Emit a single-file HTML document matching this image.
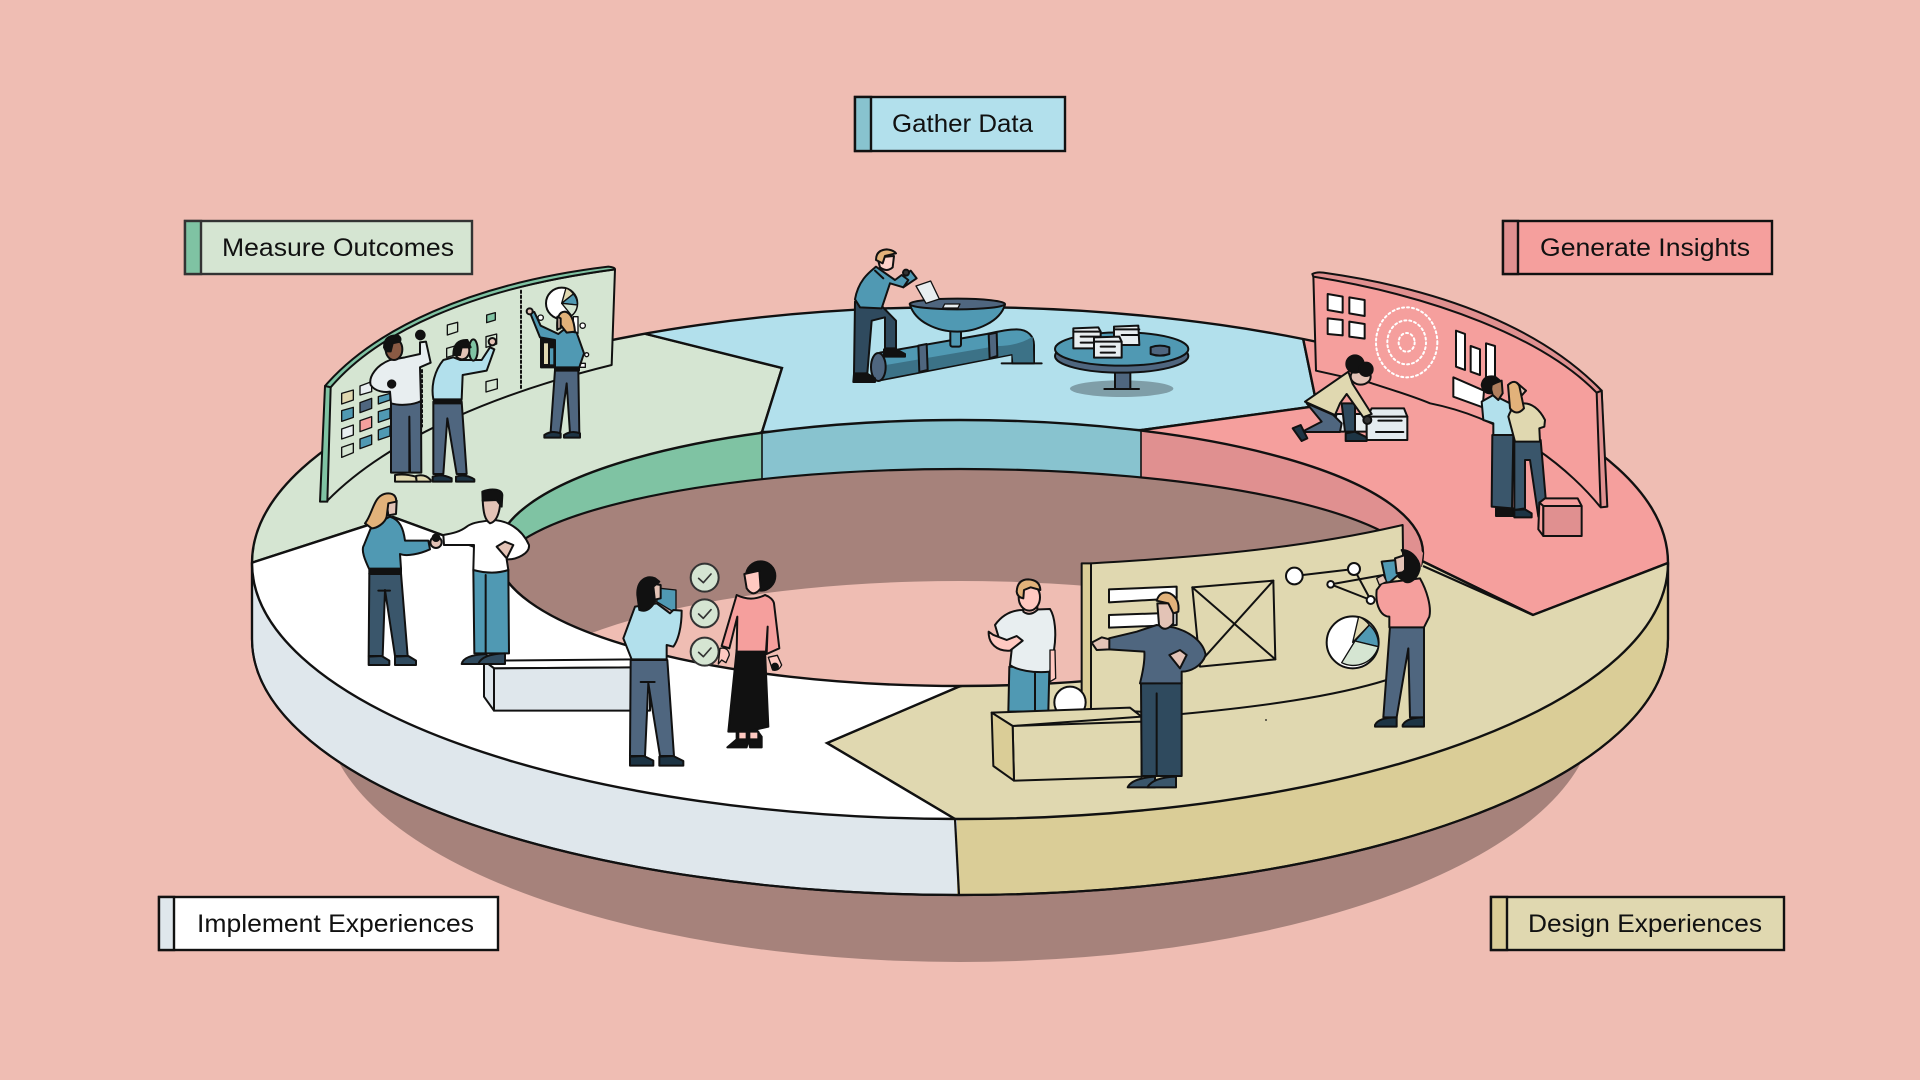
<!DOCTYPE html>
<html><head><meta charset="utf-8"><title>Experience cycle</title>
<style>
html,body{margin:0;padding:0;background:#efbdb3;width:1920px;height:1080px;overflow:hidden}
svg{display:block}
text{font-family:"Liberation Sans",sans-serif;font-size:25px;fill:#111}
.z *{stroke:#111;stroke-width:6;stroke-linejoin:round;stroke-linecap:round}
.z .n{stroke:none}
.z .t{stroke-width:4}
</style></head><body>
<svg width="1920" height="1080" viewBox="0 0 1920 1080" xmlns="http://www.w3.org/2000/svg">
<defs>
<clipPath id="outer"><ellipse cx="960" cy="563" rx="708" ry="256"/></clipPath>
<clipPath id="hole"><ellipse cx="960" cy="553" rx="463" ry="133"/></clipPath>
<clipPath id="leftSide"><rect x="200" y="500" width="757" height="420"/></clipPath>
<clipPath id="rightSide"><rect x="957" y="500" width="760" height="420"/></clipPath>
</defs>
<rect width="1920" height="1080" fill="#efbdb3"/>
<ellipse cx="960" cy="710" rx="635" ry="252" fill="#a6827b"/>

<!-- side wall -->
<g stroke="#111" stroke-width="2.2">
<path clip-path="url(#leftSide)" d="M252,563 V639 A708,256 0 0 0 1668,639 V563 Z" fill="#dfe7ec"/>
<path clip-path="url(#rightSide)" d="M252,563 V639 A708,256 0 0 0 1668,639 V563 Z" fill="#dacd97"/>
<path d="M955,819 L959,895" fill="none"/>
<path d="M252,563 V639 A708,256 0 0 0 1668,639 V563" fill="none"/>
</g>

<!-- top surface -->
<g clip-path="url(#outer)" stroke="#111" stroke-width="2.4" stroke-linejoin="miter">
<polygon fill="#d5e5d2" points="100,563 251,563 393,517 505,558 762,432 782,368 642,333 642,200 100,200"/>
<polygon fill="#b2e0ec" points="642,333 782,368 762,432 1142,430 1317,406 1303,338 1303,200 642,200"/>
<polygon fill="#f59f9d" points="1142,430 1317,406 1303,338 1303,200 1800,200 1800,563 1668,563 1533,615 1420,560"/>
<polygon fill="#e0d8b0" points="1668,563 1533,615 1420,560 958,687 827,743 955,819 955,900 1800,900 1800,563"/>
<polygon fill="#ffffff" points="251,563 393,517 505,558 958,687 827,743 955,819 955,900 100,900 100,563"/>
</g>
<ellipse cx="960" cy="563" rx="708" ry="256" fill="none" stroke="#111" stroke-width="2.4"/>

<!-- hole -->
<g clip-path="url(#hole)">
<rect x="490" y="410" width="272" height="290" fill="#7fc3a3"/>
<rect x="762" y="410" width="379" height="290" fill="#88c3cf"/>
<rect x="1141" y="410" width="290" height="290" fill="#e09090"/>
<path d="M762,420 V480 M1141,420 V480" stroke="#111" stroke-width="1.6"/>
<ellipse cx="960" cy="575" rx="463" ry="106" fill="#a6827b" stroke="#111" stroke-width="2.2"/>
<ellipse cx="960" cy="713" rx="463" ry="132" fill="#efbdb3"/>
</g>
<ellipse cx="960" cy="553" rx="463" ry="133" fill="none" stroke="#111" stroke-width="2.4"/>
<polygon points="1403,525 1423,553 1421,568 1403,566" fill="#e09090"/>
<polygon points="1403,566 1423,567 1423,595 1403,595" fill="#e0d8b0"/>
<path d="M1423,566 L1533,615" stroke="#111" stroke-width="2.2" fill="none"/>

<!-- Measure board group -->
<g class="z" transform="translate(310,260) scale(.33333)">
<path d="M45,380 C200,200 500,85 915,28 L905,315 C600,390 250,520 52,722 Z" fill="#d5e5d2"/>
<path d="M45,378 C190,210 480,70 895,20 Q915,22 915,28 C480,85 200,220 62,382 Z" fill="#7fc3a3"/>
<path d="M45,378 L62,382 L52,725 L30,725 Z" fill="#7fc3a3"/>
<polygon class="t" fill="#e0d8b0" points="95,400 130,390 130,420 95,432"/>
<polygon class="t" fill="#e8eef0" points="150,378 185,365 185,395 150,405"/>
<polygon class="t" fill="#5099b3" points="205,410 240,400 240,420 205,432"/>
<polygon class="t" fill="#5099b3" points="95,452 130,442 130,472 95,484"/>
<polygon class="t" fill="#4f667f" points="150,428 185,415 185,445 150,458"/>
<polygon class="t" fill="#5099b3" points="205,455 240,445 240,475 205,487"/>
<polygon class="t" fill="#e8eef0" points="95,507 130,495 130,525 95,537"/>
<polygon class="t" fill="#f59f9d" points="150,482 185,470 185,502 150,515"/>
<polygon class="t" fill="#5099b3" points="205,510 240,498 240,528 205,540"/>
<polygon class="t" fill="#d5e5d2" points="95,562 130,550 130,578 95,592"/>
<polygon class="t" fill="#5099b3" points="150,537 185,525 185,553 150,566"/>
<polygon class="t" fill="#d5e5d2" points="412,195 443,187 443,215 412,225"/>
<polygon class="t" fill="#7fc3a3" points="530,165 556,158 556,180 530,188"/>
<polygon class="t" fill="#d5e5d2" points="410,265 435,258 435,285 410,292"/>
<polygon class="t" fill="#d5e5d2" points="528,230 560,222 560,252 528,262"/>
<polygon class="t" fill="#d5e5d2" points="528,365 562,357 562,386 528,396"/>
<path d="M633,92 V385" stroke-dasharray="7 8" fill="none" stroke-linecap="butt"/>
<path d="M336,330 V500" stroke-dasharray="7 8" fill="none" stroke-linecap="butt"/>
<!-- pie -->
<circle cx="755" cy="130" r="47" fill="#fff"/>
<path class="t" d="M755,130 L768,84 A47,47 0 0 1 790,102 Z" fill="#e0d8b0"/>
<path class="t" d="M755,130 L790,102 A47,47 0 0 1 802,135 Z" fill="#5099b3"/>
<path class="t" d="M755,130 L802,135 A47,47 0 0 1 785,167 Z" fill="#d5e5d2"/>
<rect x="693" y="235" width="45" height="87" fill="#111"/>
<rect x="702" y="250" width="12" height="62" class="n" fill="#e0d8b0"/>
<rect x="720" y="265" width="10" height="48" class="n" fill="#5099b3"/>
<rect x="808" y="310" width="18" height="12" fill="#fff" class="t"/>
<rect x="790" y="170" width="14" height="50" fill="#fff" class="t"/>
<circle cx="692" cy="173" r="8" fill="#fff" class="t"/><circle cx="818" cy="197" r="8" fill="#fff" class="t"/>
<circle cx="830" cy="284" r="6" fill="#fff" class="t"/>
<!-- man 1 -->
<path d="M243,430 L333,425 L334,638 L300,638 L298,470 L298,638 L243,638 Z" fill="#4f667f"/>
<path d="M255,645 Q285,640 318,650 L320,665 L255,665 Z" fill="#e0d8b0"/>
<path d="M318,648 Q345,640 362,660 L362,665 L320,665 Z" fill="#e0d8b0"/>
<path d="M240,300 C200,315 175,350 182,375 C195,395 225,398 240,395 L243,430 C270,438 310,435 333,423 L330,322 L362,308 L348,245 L330,247 L330,282 L285,292 Z" fill="#e8eef0"/>
<ellipse cx="252" cy="268" rx="25" ry="32" fill="#8a5a44"/>
<path d="M222,262 Q222,225 262,226 Q275,232 270,245 L248,250 L242,274 L228,274 Z" fill="#111"/>
<circle cx="331" cy="225" r="13" fill="#111"/><circle cx="245" cy="372" r="11" fill="#111"/>
<!-- man 2 -->
<path d="M370,425 L455,425 L470,642 L440,642 L412,475 L400,642 L370,642 Z" fill="#4f667f"/>
<rect x="372" y="418" width="82" height="12" fill="#111"/>
<path d="M368,650 Q395,640 425,655 L425,665 L368,665 Z" fill="#1d3444"/>
<path d="M438,650 Q465,640 493,658 L493,665 L438,665 Z" fill="#1d3444"/>
<path d="M400,300 C375,330 362,375 370,418 L455,418 L458,345 L530,332 L553,268 L540,262 L515,300 L450,300 L430,292 Z" fill="#b2e0ec"/>
<ellipse cx="490" cy="270" rx="13" ry="32" fill="#7fc3a3"/>
<ellipse cx="456" cy="272" rx="22" ry="26" fill="#e3c3b6"/>
<path d="M430,285 Q430,238 472,240 L482,262 L455,262 L450,285 Z" fill="#111"/>
<circle cx="547" cy="245" r="11" fill="#e3c3b6"/>
<!-- woman 3 -->
<path d="M735,330 L805,330 L808,520 L780,520 L770,370 L750,520 L722,515 Z" fill="#4f667f"/>
<rect x="735" y="322" width="72" height="10" fill="#111"/>
<path d="M703,525 Q725,510 752,520 L752,533 L703,533 Z" fill="#1d3444"/>
<path d="M762,525 Q785,510 810,520 L810,533 L762,533 Z" fill="#1d3444"/>
<path d="M660,158 L673,156 L692,197 L745,222 L760,210 L800,218 L822,280 L808,322 L735,322 L735,240 L690,232 Z" fill="#5099b3"/>
<path d="M742,210 Q738,155 765,155 Q790,160 795,215 L770,218 L752,195 Z" fill="#e2b27a"/>
<path d="M742,170 L752,175 L752,205 L742,208 Z" fill="#e3c3b6"/>
<circle cx="659" cy="154" r="9" fill="#e3c3b6"/>
</g>

<!-- Gather group -->
<g class="z" transform="translate(840,230) scale(.33333)">
<ellipse class="n" cx="350" cy="350" rx="48" ry="12" fill="#6d9eb0"/>
<path d="M120,368 L440,312 Q500,298 530,298 C565,298 582,320 582,345 L582,400 L517,400 L517,373 L125,450 Z" fill="#5099b3"/>
<path class="n" d="M125,448 L120,408 L470,348 C520,348 555,335 578,320 L580,398 L520,398 L517,372 Z" fill="#3c7287"/>
<path d="M235,347 L260,342 L263,420 L238,426 Z" fill="#4f667f"/>
<path d="M446,313 L470,308 L472,378 L449,385 Z" fill="#4f667f"/>
<ellipse cx="115" cy="411" rx="22" ry="42" fill="#4f667f"/>
<path d="M485,400 H605" fill="none"/>
<rect x="331" y="300" width="32" height="50" rx="6" fill="#5099b3"/>
<path d="M210,224 C225,275 290,305 352,305 C410,305 480,275 495,224 Z" fill="#5099b3"/>
<ellipse cx="352" cy="222" rx="143" ry="16" fill="#4f667f"/>
<polygon points="228,168 272,153 298,207 258,220" fill="#e8eef0" class="t"/>
<polygon points="314,222 360,222 354,234 308,234" fill="#e8eef0" class="t"/>
<path d="M45,215 L42,430 L82,430 L95,272 L135,262 L135,355 L168,355 L168,272 L125,228 Z" fill="#2f4a5e"/>
<path d="M42,432 L80,430 L105,445 L105,456 L40,456 Z" fill="#111"/>
<path d="M132,358 L165,356 L195,372 L195,380 L132,380 Z" fill="#111"/>
<polygon points="172,150 212,122 230,145 190,172" fill="#5099b3"/>
<path d="M45,208 C55,150 90,125 108,110 L165,150 L185,135 L205,150 L190,172 L150,160 L125,235 L60,232 Z" fill="#5099b3"/>
<path d="M112,82 L162,78 L158,112 Q140,128 120,112 Z" fill="#fdd3ca"/>
<path d="M108,90 Q108,60 140,58 Q160,60 168,70 L135,78 L128,100 Z" fill="#e2b27a"/>
<path d="M105,122 L130,145" fill="none"/>
<circle cx="198" cy="128" r="9" fill="#333"/>
<!-- table -->
<ellipse class="n" cx="845" cy="476" rx="155" ry="25" fill="#7f9ea8"/>
<rect x="825" y="425" width="46" height="52" fill="#4f667f"/>
<path d="M793,477 H897" fill="none"/>
<ellipse cx="845" cy="378" rx="200" ry="50" fill="#4f667f"/>
<ellipse cx="845" cy="357" rx="200" ry="50" fill="#5099b3"/>
<path d="M700,295 L775,292 L782,305 L782,355 L700,355 Z" fill="#e8eef0"/>
<path d="M700,305 L782,305 M722,320 H780 M722,338 H760" fill="none"/>
<path d="M822,290 L895,287 L898,345 L822,345 Z" fill="#e8eef0"/>
<path d="M822,298 H898 M845,315 H896" fill="none"/>
<path d="M762,322 L838,320 L845,335 L845,383 L762,383 Z" fill="#e8eef0"/>
<path d="M762,335 H845 M782,350 H825 M782,368 H825" fill="none"/>
<path d="M932,352 Q960,342 988,352 L988,372 Q960,382 932,372 Z" fill="#4f667f"/>
</g>

<!-- Red board group -->
<g class="z" transform="translate(1280,260) scale(.33333)">
<path d="M100,45 C450,100 800,220 965,392 L978,740 L960,740 C880,640 700,480 450,430 C390,405 320,385 270,368 L108,332 Z" fill="#f59f9d"/>
<path d="M97,42 Q110,35 130,38 C500,90 790,210 965,392 L950,398 C790,235 470,110 100,50 Z" fill="#e09090"/>
<path d="M950,398 L965,392 L982,740 L962,742 Z" fill="#e09090"/>
<polygon points="143,102 188,110 188,158 143,150" fill="#fff"/>
<polygon points="208,112 254,120 254,168 208,160" fill="#fff"/>
<polygon points="143,175 188,180 188,226 143,222" fill="#fff"/>
<polygon points="208,185 254,192 254,236 208,230" fill="#fff"/>
<g fill="none">
<ellipse cx="380" cy="247" rx="92" ry="105" style="stroke:#fff" stroke-dasharray="6 9"/>
<ellipse cx="380" cy="247" rx="58" ry="66" style="stroke:#fff" stroke-dasharray="6 9"/>
<ellipse cx="380" cy="247" rx="24" ry="28" style="stroke:#fff" stroke-dasharray="6 9"/>
</g>
<polygon points="528,212 555,222 555,330 528,320" fill="#fff"/>
<polygon points="572,258 600,268 600,345 572,335" fill="#fff"/>
<polygon points="618,250 645,258 645,360 618,350" fill="#fff"/>
<polygon points="520,352 612,392 608,442 520,410" fill="#fff"/>
<!-- kneeling -->
<path d="M170,462 L260,462 L260,515 L155,515 Z" fill="#e8eef0"/>
<path d="M275,445 L372,445 L382,470 L260,472 Z" fill="#e4ebef"/>
<rect x="260" y="470" width="122" height="70" fill="#e4ebef"/>
<path d="M295,482 H365 M288,516 H370" fill="none"/>
<path d="M80,430 L160,465 L185,490 L180,516 L65,516 L125,485 Z" fill="#4f667f"/>
<path d="M185,430 L225,430 L225,515 L195,515 Z" fill="#2f4a5e"/>
<path d="M38,505 L62,495 L82,535 L65,543 Z" fill="#1d3444"/>
<path d="M197,520 L225,515 L260,532 L260,543 L197,543 Z" fill="#1d3444"/>
<path d="M205,335 L75,425 L165,465 L180,430 L200,402 L250,472 L275,462 L218,372 Z" fill="#e0d8b0"/>
<ellipse cx="242" cy="350" rx="30" ry="24" fill="#e3c3b6"/>
<circle cx="225" cy="312" r="26" fill="#111"/><circle cx="258" cy="328" r="20" fill="#111"/>
<circle cx="262" cy="480" r="12" fill="#333"/>
<!-- couple -->
<path d="M648,745 L700,745 L700,768 L648,768 Z" fill="#111"/>
<path d="M637,525 L700,525 L696,745 L635,740 Z" fill="#3a566b"/>
<path d="M605,425 L640,405 L690,430 L700,525 L640,525 L640,490 L610,480 Z" fill="#b2e0ec"/>
<path d="M630,375 L665,362 L668,400 L655,420 L638,405 Z" fill="#b07f5e"/>
<path d="M605,375 Q610,345 645,350 L660,362 L635,375 L632,400 Q610,400 605,375 Z" fill="#111"/>
<path d="M703,545 L782,540 L797,715 L775,770 L750,600 L735,600 L735,745 L703,750 Z" fill="#3a566b"/>
<path d="M703,750 L735,748 L755,760 L755,772 L703,772 Z" fill="#1d3444"/>
<path d="M685,470 C700,420 760,410 795,480 L793,500 L778,505 L780,545 L705,545 Z" fill="#e0d8b0"/>
<path d="M710,368 L738,392 L722,410 Z" fill="#e3c3b6"/>
<path d="M684,375 Q705,355 718,378 L732,445 Q710,470 690,445 Z" fill="#e2b27a"/>
<!-- box -->
<path d="M778,728 L795,715 L893,715 L905,738 L790,738 Z" fill="#f59f9d"/>
<path d="M778,728 L790,738 L790,828 L775,808 Z" fill="#f59f9d"/>
<rect x="790" y="738" width="115" height="90" fill="#e09090"/>
</g>

<!-- Implement group -->
<g class="z" transform="translate(340,470) scale(.33333)">
<path d="M432,572 L900,568 L930,592 L462,595 Z" fill="#fff"/>
<path d="M462,595 L930,592 L930,722 L462,722 Z" fill="#dfe7ec"/>
<path d="M432,572 L462,595 L462,722 L432,680 Z" fill="#dfe7ec"/>
<!-- woman left -->
<path d="M88,310 L183,310 L203,558 L165,558 L135,360 L128,558 L86,558 Z" fill="#3a566b"/>
<path d="M115,362 H150" fill="none"/>
<path d="M86,560 L125,558 L148,572 L148,585 L86,585 Z" fill="#2f4a5e"/>
<path d="M165,560 L205,558 L228,572 L228,585 L165,585 Z" fill="#2f4a5e"/>
<rect x="88" y="296" width="95" height="16" fill="#111"/>
<path d="M95,168 L150,140 C180,150 190,175 195,212 L265,212 L270,238 C240,252 200,260 180,252 L183,296 L87,296 C75,270 62,240 72,225 Z" fill="#5099b3"/>
<path d="M140,100 L170,92 L168,132 L145,136 Z" fill="#e3c3b6"/>
<path d="M75,160 C100,130 100,70 145,70 C165,70 170,85 168,95 L145,100 L140,140 C135,160 110,175 95,175 Z" fill="#e2b27a"/>
<circle cx="288" cy="217" r="17" fill="#e3c3b6"/>
<circle cx="288" cy="203" r="10" fill="#111"/>
<!-- man right -->
<path d="M400,300 L505,300 L507,550 L403,550 Z" fill="#5099b3"/>
<path d="M437,315 V548" fill="none"/>
<path d="M365,582 Q370,555 440,552 L440,582 Z" fill="#2f4a5e"/>
<path d="M415,582 Q425,552 495,550 L495,582 Z" fill="#2f4a5e"/>
<path d="M310,195 C340,190 360,185 380,170 C400,155 430,155 455,150 C500,150 545,175 567,225 C570,250 530,270 500,268 L505,300 C470,312 430,308 400,300 L402,225 L312,225 Z" fill="#fff"/>
<path d="M428,90 C430,130 435,150 450,160 C470,155 480,130 482,85 Z" fill="#e3c3b6"/>
<path d="M427,65 C450,55 485,55 487,75 L485,110 L470,90 L428,92 Z" fill="#111"/>
<path d="M470,230 L495,215 L520,225 L500,265 Z" fill="#e3c3b6"/>
<!-- woman with book -->
<polygon points="960,355 1008,360 1008,430 950,395" fill="#5099b3" class="t"/>
<path d="M872,570 L982,570 L1002,858 L960,858 L925,640 L915,858 L870,858 Z" fill="#4f667f"/>
<path d="M902,636 H944" fill="none"/>
<path d="M870,860 L912,858 L940,872 L940,887 L870,887 Z" fill="#1d3444"/>
<path d="M958,860 L1000,858 L1030,873 L1030,887 L958,887 Z" fill="#1d3444"/>
<path d="M885,410 L950,400 L990,430 L1000,420 L1025,422 C1025,470 1015,510 1000,530 L980,525 L980,568 L875,568 L850,505 Z" fill="#b2e0ec"/>
<path d="M935,340 L962,345 L962,385 L940,390 Z" fill="#e3c3b6"/>
<path d="M892,375 C890,330 920,315 945,325 L958,335 L940,350 L945,395 Q925,430 898,420 Z" fill="#111"/>
<!-- checks -->
<g class="t">
<circle cx="1094" cy="323" r="42" fill="#d5e5d2" style="stroke:#333"/>
<circle cx="1094" cy="430" r="42" fill="#d5e5d2" style="stroke:#333"/>
<circle cx="1094" cy="545" r="42" fill="#d5e5d2" style="stroke:#333"/>
<path d="M1076,325 L1090,338 L1113,312 M1076,432 L1090,445 L1113,419 M1076,547 L1090,560 L1113,534" fill="none" style="stroke-width:5;stroke:#333"/>
</g>
<!-- woman pink -->
<path d="M1190,780 L1190,808 L1162,832 L1220,832 L1225,808 L1230,832 L1265,832 L1265,800 L1250,780 Z" fill="#111"/>
<path d="M1195,785 H1220 V808 H1195 Z" fill="#ffc9c1"/>
<path d="M1228,785 H1255 V808 H1228 Z" fill="#ffc9c1"/>
<path d="M1190,540 L1275,540 L1285,770 L1220,785 L1165,785 Z" fill="#111"/>
<path d="M1190,375 C1220,390 1250,388 1275,375 C1290,380 1300,390 1302,400 L1318,535 L1280,552 L1283,470 L1278,545 L1190,545 L1192,440 L1168,535 L1145,528 Z" fill="#f59f9d"/>
<circle cx="1262" cy="318" r="44" fill="#111"/>
<path d="M1213,312 L1258,302 L1262,355 Q1240,385 1220,355 Z" fill="#ffc9c1"/>
<path d="M1140,535 Q1165,530 1168,555 L1158,578 L1145,570 L1135,582 Z" fill="#ffc9c1" class="t"/>
<path d="M1285,562 L1312,556 L1325,585 Q1315,605 1298,600 Z" fill="#ffc9c1" class="t"/>
<circle cx="1305" cy="590" r="9" fill="#111"/>
</g>

<!-- Design group -->
<g class="z" transform="translate(960,510) scale(.33333)">
<path d="M393,160 C750,140 1050,110 1328,45 L1330,200 L1280,510 C1120,560 900,590 665,612 L393,597 Z" fill="#e0d8b0"/>
<path d="M365,160 L393,160 L393,597 L365,600 Z" fill="#dacd97"/>
<polygon points="447,238 650,230 650,265 447,277" fill="#fff"/>
<polygon points="447,315 650,308 650,345 447,353" fill="#fff"/>
<polygon points="697,232 940,212 946,448 720,470" fill="#e0d8b0"/>
<path d="M697,232 L946,448 M940,212 L735,440" fill="none"/>
<path d="M1003,198 L1182,177 L1232,270 L1112,223 L1270,195" fill="none"/>
<circle cx="1003" cy="198" r="25" fill="#fff"/>
<circle cx="1182" cy="177" r="18" fill="#fff"/>
<circle cx="1112" cy="223" r="10" fill="#fff"/>
<circle cx="1232" cy="270" r="12" fill="#fff"/>
<circle cx="1178" cy="397" r="78" fill="#fff"/>
<path class="t" d="M1178,397 L1196,320 A78,78 0 0 1 1228,345 Z" fill="#e0d8b0"/>
<path class="t" d="M1185,393 L1228,345 A78,78 0 0 1 1255,410 Z" fill="#5099b3"/>
<path class="t" d="M1185,393 L1255,410 A78,78 0 0 1 1145,458 Z" fill="#d5e5d2"/>
<!-- left man -->
<path d="M148,470 L268,480 L265,605 L145,605 Z" fill="#5099b3"/>
<path d="M225,490 V605" fill="none"/>
<path d="M105,345 C130,310 160,300 190,300 L270,297 C285,320 290,370 282,420 L270,485 C220,490 170,480 150,465 L155,420 L120,395 Z" fill="#e8eef0"/>
<path d="M86,365 C85,400 110,425 150,422 L188,392 L170,378 L140,390 L100,375 Z" fill="#ffc9c1"/>
<path d="M190,280 L190,305 Q210,320 232,300 L232,280 Z" fill="#ffc9c1"/>
<ellipse cx="208" cy="262" rx="32" ry="40" fill="#ffc9c1"/>
<path d="M170,245 Q172,208 205,208 Q240,210 241,240 L212,232 L192,240 L190,265 Q172,262 170,245 Z" fill="#e2b27a"/>
<path d="M270,420 L285,420 L287,505 L270,515 Z" fill="#ffc9c1" class="t"/>
<circle cx="330" cy="577" r="47" fill="#fff"/>
<!-- box -->
<polygon points="95,608 510,593 545,620 158,648" fill="#e0d8b0"/>
<polygon points="158,648 545,635 545,800 162,812" fill="#e0d8b0"/>
<polygon points="95,608 158,648 162,812 100,768" fill="#dacd97"/>
<!-- center man -->
<path d="M543,520 L665,518 L665,798 L545,798 Z" fill="#2f4a5e"/>
<path d="M590,550 V798" fill="none" />
<path d="M503,832 Q515,805 585,800 L585,832 Z" fill="#3a566b"/>
<path d="M562,832 Q580,802 648,800 L648,832 Z" fill="#3a566b"/>
<path d="M447,385 L530,365 L590,345 L640,352 C690,365 730,395 737,435 C725,470 690,485 665,485 L665,520 L540,520 C550,480 555,450 553,425 L447,418 Z" fill="#4f667f"/>
<path d="M395,398 L425,382 L448,388 L448,418 L410,420 Z" fill="#e3c3b6"/>
<path d="M628,435 L660,420 L680,435 L660,475 Z" fill="#e3c3b6"/>
<path d="M592,280 L640,280 L640,340 Q615,370 597,345 Z" fill="#e3c3b6"/>
<path d="M590,272 Q600,240 630,250 Q660,265 655,305 L640,310 L625,280 Z" fill="#e2b27a"/>
<!-- right woman -->
<polygon points="1265,155 1310,150 1320,190 1280,225" fill="#5099b3"/>
<path d="M1290,350 L1392,350 L1392,622 L1350,622 L1345,415 L1310,622 L1270,622 Z" fill="#4f667f"/>
<path d="M1245,645 Q1255,622 1310,622 L1310,650 L1245,650 Z" fill="#1d3444"/>
<path d="M1328,645 Q1340,622 1392,622 L1392,650 L1328,650 Z" fill="#1d3444"/>
<path d="M1265,220 L1300,215 L1380,205 C1400,240 1415,290 1408,320 L1392,352 L1288,352 L1288,320 C1265,320 1245,290 1250,240 Z" fill="#f59f9d"/>
<path d="M1305,145 L1335,135 L1340,185 L1310,190 Z" fill="#e3c3b6"/>
<path d="M1325,120 C1360,120 1385,160 1378,180 C1372,205 1350,222 1335,215 L1315,200 L1335,180 L1335,140 Z" fill="#111"/>
<path d="M1250,205 L1270,195 L1280,215 L1258,225 Z" fill="#e3c3b6" class="t"/>
</g>
<circle cx="1266" cy="720" r=".9" fill="#111"/>

<!-- labels -->
<g stroke="#111" stroke-width="2.4">
<rect x="855" y="97" width="210" height="54" fill="#b2e0ec"/>
<rect x="855" y="97" width="16" height="54" fill="#88c3cf"/>
<rect x="185" y="221" width="287" height="53" fill="#d5e5d2" stroke="#333"/>
<rect x="185" y="221" width="16" height="53" fill="#7fc3a3" stroke="#333"/>
<rect x="1503" y="221" width="269" height="53" fill="#f59f9d"/>
<rect x="1503" y="221" width="15" height="53" fill="#e09090"/>
<rect x="159" y="897" width="339" height="53" fill="#ffffff"/>
<rect x="159" y="897" width="15" height="53" fill="#dfe7ec"/>
<rect x="1491" y="897" width="293" height="53" fill="#e0d8b0"/>
<rect x="1491" y="897" width="16" height="53" fill="#dacd97"/>
</g>
<text x="892" y="132" textLength="141" lengthAdjust="spacingAndGlyphs">Gather Data</text>
<text x="222" y="256" textLength="232" lengthAdjust="spacingAndGlyphs">Measure Outcomes</text>
<text x="1540" y="256" textLength="210" lengthAdjust="spacingAndGlyphs">Generate Insights</text>
<text x="197" y="932" textLength="277" lengthAdjust="spacingAndGlyphs">Implement Experiences</text>
<text x="1528" y="932" textLength="234" lengthAdjust="spacingAndGlyphs">Design Experiences</text>
</svg>
</body></html>
